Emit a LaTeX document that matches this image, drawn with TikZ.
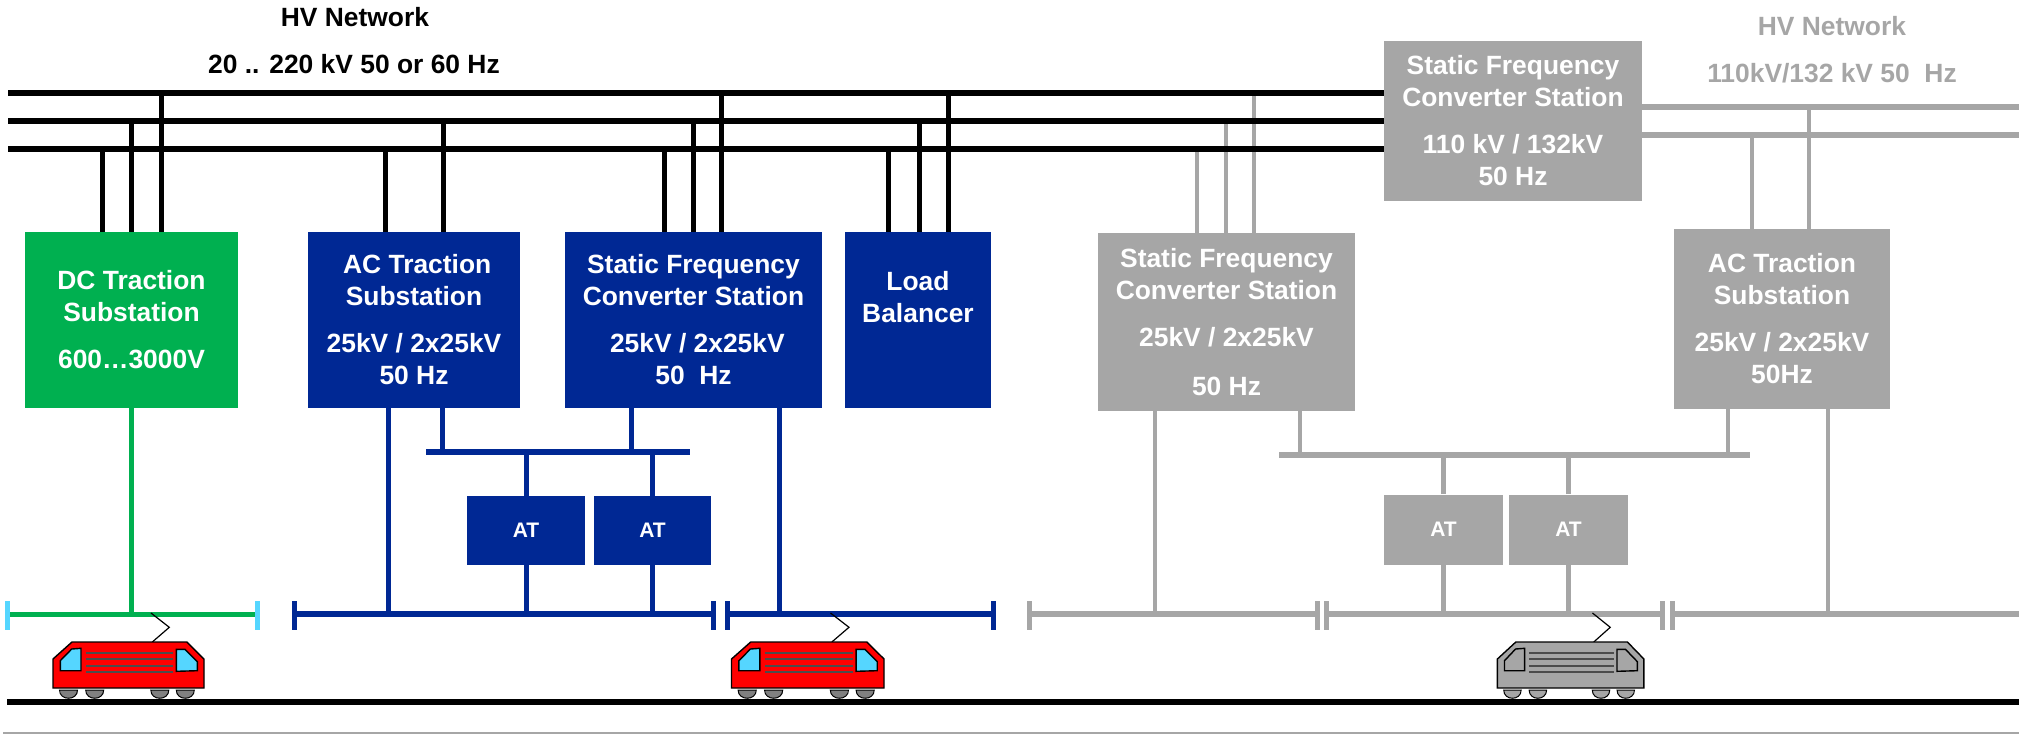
\documentclass[tikz,border=0pt]{standalone}
\usepackage{fontspec}
\setmainfont{Liberation Sans}
\usepackage{tikz}
\definecolor{acblue}{RGB}{0,40,148}
\definecolor{dcgreen}{RGB}{0,176,80}
\definecolor{offgrey}{RGB}{166,166,166}
\definecolor{tipcyan}{RGB}{85,214,255}
\newcommand{\trainpic}[5]{%
  % #1 x shift, #2 x scale, #3 body, #4 window, #5 wheel
  \begin{scope}[shift={(#1,0)}, xscale=#2]
    \foreach \wx in {68.5,94.7,159.8,185.3}
      \draw[black, line width=0.5pt, fill=#5] (\wx-9,690) .. controls (\wx-9,701) and (\wx+9,701) .. (\wx+9,690) -- cycle;
    \draw[black, line width=0.6pt] (151,613) -- (169.3,627.3) -- (152.3,642);
    \draw[black, line width=0.7pt, fill=#3] (53,659) -- (72,642) -- (187,642) -- (204,659) -- (204,688) -- (53,688) -- cycle;
    \draw[black, line width=0.7pt, fill=#4] (60.3,660.7) -- (71.7,649) -- (81,648.3) -- (81,670.7) -- (60.3,670.7) -- cycle;
    \draw[black, line width=0.7pt, fill=#4] (176.3,649.3) -- (185,649.3) -- (197.3,661.7) -- (197.3,670.7) -- (176.3,671.3) -- cycle;
    \foreach \sy in {652.7,658.7,666,672}
      \draw[black!70, line width=1pt] (86,\sy) -- (173.3,\sy);
  \end{scope}}

\begin{document}
\begin{tikzpicture}[
    x=0.5pt, y=-0.5pt,
    station/.style={rectangle, inner sep=0pt, align=center, text=white,
                font=\fontsize{13.2}{16}\selectfont\bfseries},
    blue box/.style={station, fill=acblue},
    grey box/.style={station, fill=offgrey},
    at box/.style={font=\fontsize{10.5}{12}\selectfont\bfseries},
    head/.style={inner sep=0pt, font=\fontsize{13.2}{16}\selectfont\bfseries},
    hv/.style={line width=2.5pt, black},
    hvbar/.style={line width=3pt, black},
    bl/.style={line width=2.5pt, acblue},
    blbar/.style={line width=2.7pt, acblue},
    gn/.style={line width=2.5pt, dcgreen},
    gr/.style={line width=2.3pt, offgrey},
    grbar/.style={line width=2.7pt, offgrey},
    tick/.style={line width=2.5pt}
  ]
    \useasboundingbox (0,0) rectangle (2019,735);

    % network labels
    \node[head] (hvname) at (355,17) {HV Network};
    \node[head] (hvvolt) at (354,64) {20 .. 220 kV 50 or 60 Hz};
    \node[head, text=offgrey] (grname) at (1832,26) {HV Network};
    \node[head, text=offgrey] (grvolt) at (1832,73) {110kV/132 kV 50~~Hz};

    % busbars
    \coordinate (hva) at (8,93);
    \coordinate (hvb) at (8,121);
    \coordinate (hvc) at (8,149);
    \coordinate (gra) at (2019,107);
    \coordinate (grb) at (2019,135);
    \coordinate (dcbus) at (8,614);
    \coordinate (acbus) at (294,614);
    \coordinate (atbus) at (426,452);
    \coordinate (gratbus) at (1279,455);

    % stations
    \node[station, fill=dcgreen, minimum width=106.5pt, minimum height=88pt] (dc) at (131.5,320)
      {DC Traction\\Substation\\[7.5pt]600…3000V};
    \node[blue box, minimum width=106pt, minimum height=88pt] (ac) at (414,320)
      {\hspace*{3.2pt}AC Traction\\Substation\\[7.5pt]25kV / 2x25kV\\50 Hz};
    \node[blue box, minimum width=128.5pt, minimum height=88pt] (sfc) at (693.5,320)
      {Static Frequency\\Converter Station\\[7.5pt]\hspace*{3.9pt}25kV / 2x25kV\\50~~Hz};
    \node[blue box, minimum width=73pt, minimum height=88pt] (lb) at (918,320)
      {Load\\Balancer\\[2.3pt]\strut};
    \node[grey box, minimum width=128.5pt, minimum height=89pt] (gsfc) at (1226.5,322)
      {Static Frequency\\Converter Station\\[7.5pt]25kV / 2x25kV\\[8.5pt]50 Hz};
    \node[grey box, minimum width=108pt, minimum height=90pt] (gac) at (1782,319)
      {AC Traction\\Substation\\[7.5pt]25kV / 2x25kV\\50Hz};

    % autotransformers
    \node[blue box, at box, minimum width=59pt, minimum height=34.5pt] (at1) at (526,530.5) {AT};
    \node[blue box, at box, minimum width=58.5pt, minimum height=34.5pt] (at2) at (652.5,530.5) {AT};
    \node[grey box, at box, minimum width=59.5pt, minimum height=35pt] (gat1) at (1443.5,529.5) {AT};
    \node[grey box, at box, minimum width=59.5pt, minimum height=35pt] (gat2) at (1568.5,529.5) {AT};

    % tappings first, busbars over them
    \foreach \from/\tap/\bus in {gsfc/1197/hvc,gsfc/1226/hvb,gsfc/1254/hva}
      \draw[gr] (\tap,0 |- \from.north) -- (\tap,0 |- \bus);
    \foreach \from/\tap/\bus in {dc/102/hvc,dc/131/hvb,dc/161/hva,ac/385/hvc,ac/443/hvb,
        sfc/664/hvc,sfc/693/hvb,sfc/721/hva,lb/888/hvc,lb/919/hvb,lb/948/hva}
      \draw[hv] (\tap,0 |- \from.north) -- (\tap,0 |- \bus);
    \foreach \bus in {hva,hvb,hvc}
      \draw[hvbar] (\bus) -- (1400,0 |- \bus);
    \node[grey box, minimum width=129pt, minimum height=80pt] (top) at (1513,121)
      {Static Frequency\\Converter Station\\[7.5pt]110 kV / 132kV\\50 Hz};
    \foreach \bus in {gra,grb}
      \draw[grbar] (top.east |- \bus) -- (\bus);
    \foreach \from/\tap/\bus in {gac/1752/grb,gac/1809/gra}
      \draw[gr] (\tap,0 |- \from.north) -- (\tap,0 |- \bus);

    \draw[gn] (131,0 |- dc.south) -- (131,0 |- dcbus);
    \draw[gn] (dcbus) -- (257,0 |- dcbus);
    \draw[tick, tipcyan] (7,601) -- (7,630);
    \draw[tick, tipcyan] (257,601) -- (257,630);

    \draw[blbar] (atbus) -- (690,0 |- atbus);
    \draw[bl] (442,0 |- ac.south) -- (442,0 |- atbus);
    \draw[bl] (631,0 |- sfc.south) -- (631,0 |- atbus);
    \draw[bl] (388,0 |- ac.south) -- (388,0 |- acbus);
    \draw[bl] (779,0 |- sfc.south) -- (779,0 |- acbus);
    \draw[bl] (at1.north) -- (at1.north |- atbus);
    \draw[bl] (at2.north) -- (at2.north |- atbus);
    \draw[bl] (at1.south) -- (at1.south |- acbus);
    \draw[bl] (at2.south) -- (at2.south |- acbus);
    \draw[blbar] (acbus) -- (713,0 |- acbus);
    \draw[blbar] (727,0 |- acbus) -- (993,0 |- acbus);
    \foreach \tx in {294,713,727,993}
      \draw[tick, acblue] (\tx,601) -- (\tx,630);

    \draw[grbar] (gratbus) -- (1750,0 |- gratbus);
    \draw[gr] (1300,0 |- gsfc.south) -- (1300,0 |- gratbus);
    \draw[gr] (1728,0 |- gac.south) -- (1728,0 |- gratbus);
    \draw[gr] (1155,0 |- gsfc.south) -- (1155,0 |- acbus);
    \draw[gr] (1828,0 |- gac.south) -- (1828,0 |- acbus);
    \draw[gr] (gat1.north) -- (gat1.north |- gratbus);
    \draw[gr] (gat2.north) -- (gat2.north |- gratbus);
    \draw[gr] (gat1.south) -- (gat1.south |- acbus);
    \draw[gr] (gat2.south) -- (gat2.south |- acbus);
    \draw[grbar] (1029,0 |- acbus) -- (1317,0 |- acbus);
    \draw[grbar] (1326,0 |- acbus) -- (1662,0 |- acbus);
    \draw[grbar] (1672,0 |- acbus) -- (2019,0 |- acbus);
    \foreach \tx in {1029,1317,1326,1662,1672}
      \draw[tick, offgrey] (\tx,601) -- (\tx,630);

    % trains and track
    \trainpic{0}{1}{red}{tipcyan}{black!50}
    \trainpic{678}{1.01}{red}{tipcyan}{black!50}
    \trainpic{1446}{0.97}{offgrey}{offgrey}{offgrey}
    \draw[line width=2.7pt, black] (7,702) -- (2019,702);
    \draw[line width=1pt, offgrey] (3,733) -- (2019,733);
  \end{tikzpicture}
\end{document}
